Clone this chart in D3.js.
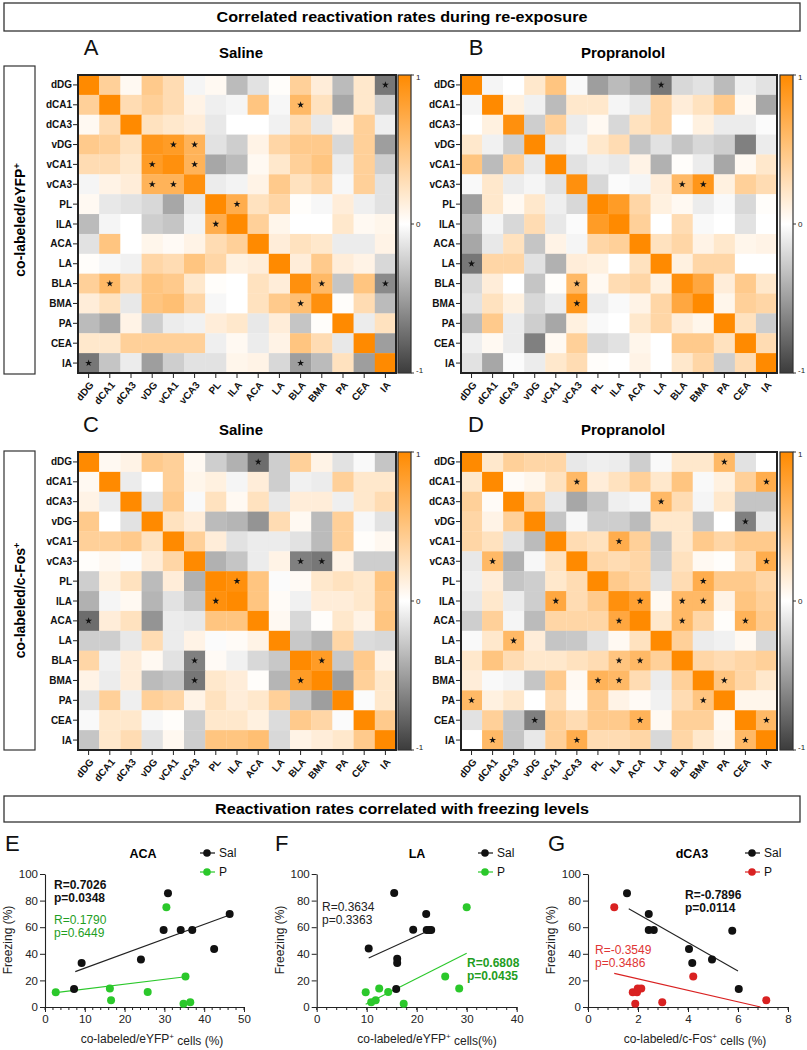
<!DOCTYPE html>
<html><head><meta charset="utf-8">
<script src="https://cdn.jsdelivr.net/npm/d3@7"></script>
<style>
html,body{margin:0;padding:0;background:#fff;}
svg{display:block;font-family:"Liberation Sans",Arial,sans-serif;}
</style></head>
<body>
<svg id="fig" width="807" height="1050"></svg>
<script>
// ---------------- DATA ----------------
const regions = ["dDG","dCA1","dCA3","vDG","vCA1","vCA3","PL","ILA","ACA","LA","BLA","BMA","PA","CEA","IA"];

const matA = [
 [1,0.4,0.05,0.45,0.3,-0.05,0.05,-0.35,-0.15,0.02,0.4,0.15,-0.35,0.2,-0.7],
 [0.4,1,0.3,0.4,0.3,0.1,-0.08,-0.05,0.5,-0.04,0.6,0.25,-0.45,0.2,-0.25],
 [0.05,0.3,1,0.25,0.2,0.15,-0.12,0,0,-0.07,0.3,-0.12,0.1,0.4,-0.08],
 [0.45,0.4,0.25,0.9,0.85,0.65,-0.15,-0.25,0.1,0.35,0.45,0.45,-0.2,0.4,-0.5],
 [0.3,0.3,0.2,0.85,0.95,0.65,-0.45,-0.35,0.05,0.2,0.4,0.5,-0.1,0.4,-0.25],
 [-0.05,0.1,0.15,0.65,0.65,0.95,-0.1,-0.06,0.1,0.45,0.25,0.35,-0.04,0.4,-0.15],
 [0.05,-0.12,-0.15,-0.2,-0.45,-0.12,1,0.7,0.25,0.35,0.02,-0.04,0.15,-0.08,-0.15],
 [-0.35,-0.05,0,-0.25,-0.3,-0.06,0.7,1,0.4,0.08,0,0,0.2,0.05,0.08],
 [-0.15,0.5,0,0.08,0.04,0.1,0.3,0.4,1,0.15,0.25,0.2,-0.1,-0.1,0.1],
 [0.02,-0.04,-0.07,0.35,0.3,0.5,0.35,0.12,0.15,1,0.15,0.45,0.15,0.1,-0.2],
 [0.4,0.6,0.3,0.5,0.45,0.2,0.02,0,0.25,0.15,0.95,0.6,-0.3,0.5,-0.6],
 [0.15,0.25,-0.12,0.5,0.55,0.35,-0.04,0,0.25,0.45,0.55,0.95,0.02,0.3,-0.35],
 [-0.35,-0.45,0.1,-0.25,-0.1,-0.07,0.15,0.2,-0.12,0.15,-0.3,0.02,1,-0.1,0.25],
 [0.2,0.2,0.4,0.4,0.4,0.4,-0.08,0.05,-0.1,0.1,0.5,0.3,-0.12,1,-0.5],
 [-0.7,-0.3,-0.1,-0.5,-0.25,-0.15,-0.15,0.08,0.1,-0.2,-0.5,-0.35,0.25,-0.5,1]
];
const matB = [
 [1,-0.05,0,0.2,0.5,-0.03,-0.5,-0.35,-0.45,-0.7,-0.2,-0.15,-0.35,-0.08,-0.15],
 [-0.05,1,0.12,-0.07,-0.35,0.2,0.2,-0.05,-0.12,0.35,0.15,0.25,0.45,0.05,-0.45],
 [0,0.12,0.95,-0.25,0.4,-0.1,0.05,-0.2,0.25,0.35,0,0.12,-0.1,-0.1,-0.02],
 [0.2,-0.07,-0.25,1,-0.12,-0.05,0.2,0.3,-0.3,-0.15,-0.3,-0.2,-0.25,-0.65,-0.1],
 [0.5,-0.35,0.4,-0.12,1,-0.15,-0.08,-0.12,0.1,-0.4,0.02,-0.1,-0.45,0.05,0.2],
 [-0.03,0.2,-0.1,-0.05,-0.15,0.95,-0.2,-0.02,-0.05,0.15,0.6,0.9,0.12,0.4,0.3],
 [-0.5,0.2,0.05,0.2,-0.08,-0.2,1,0.85,0.35,0.12,0.05,-0.1,-0.03,-0.2,0.02],
 [-0.35,-0.05,-0.2,0.3,-0.12,-0.02,0.85,1,0.4,0,0.3,-0.03,0,-0.15,0],
 [-0.45,-0.12,0.25,-0.3,0.1,-0.05,0.35,0.4,1,0.25,0.35,0.1,0.2,0.08,0.1],
 [-0.7,0.35,0.35,-0.15,-0.4,0.15,0.12,0,0.25,1,0.12,0.35,0.35,0,0],
 [-0.2,0.15,0,-0.3,0.02,0.6,0.05,0.3,0.35,0.12,0.95,0.75,0.15,0.45,0.2],
 [-0.15,0.25,0.12,-0.2,-0.1,0.9,-0.1,-0.03,0.1,0.35,0.75,1,0.08,0.4,0.35],
 [-0.35,0.45,-0.1,-0.25,-0.45,0.12,-0.03,0,0.2,0.35,0.15,0.08,1,0.25,-0.25],
 [-0.08,0.05,-0.1,-0.65,0.05,0.4,-0.2,-0.15,0.08,0,0.45,0.45,0.25,1,0.3],
 [-0.15,-0.45,-0.02,-0.1,0.2,0.3,0.02,0,0.1,0,0.2,0.35,-0.25,0.3,1]
];
const matC = [
 [1,0.05,0.1,0.45,0.4,0.05,-0.25,-0.4,-0.75,-0.25,0.4,0.1,-0.15,-0.03,-0.3],
 [0.05,1,-0.1,0,0.4,0.08,0.12,-0.05,0.15,-0.25,-0.07,-0.1,0.4,0.2,0.2],
 [0.1,-0.1,1,-0.15,0.45,-0.03,0.25,0.05,0.25,-0.12,0.15,0.15,-0.08,0.2,0.3],
 [0.45,0,-0.15,1,0.25,0.15,-0.35,-0.38,-0.55,0.3,0.05,-0.35,0.4,-0.04,-0.15],
 [0.4,0.4,0.45,0.25,1,0.4,0.15,-0.15,-0.1,-0.1,-0.15,-0.35,0.4,0.02,0.06],
 [0.02,0.06,-0.02,0.15,0.35,1,-0.4,-0.3,-0.1,0.1,-0.65,-0.7,0.1,-0.25,-0.25],
 [-0.25,0.12,0.25,-0.35,0.15,-0.4,1,0.95,0.5,-0.02,0.04,0.2,0.25,0.2,0.5],
 [-0.4,-0.05,0.05,-0.38,-0.15,-0.3,0.95,1,0.5,0.03,-0.07,0.15,0.15,0.2,0.45],
 [-0.75,0.15,0.25,-0.55,-0.1,-0.12,0.5,0.5,1,0.05,-0.2,0.02,0.2,0.1,0.5],
 [-0.25,-0.25,-0.12,0.3,-0.1,0.1,-0.02,0.03,0.1,1,-0.28,-0.38,0.35,-0.18,-0.2],
 [0.35,-0.07,0.15,0.05,-0.15,-0.65,0.04,-0.07,-0.2,-0.28,1,0.85,-0.28,0.45,0.1],
 [0.1,-0.1,0.15,-0.35,-0.3,-0.7,0.2,0.15,0.02,-0.38,0.85,1,-0.5,0.4,0.2],
 [-0.15,0.4,-0.08,0.4,0.35,0.1,0.25,0.15,0.2,0.4,-0.28,-0.5,1,-0.02,0.2],
 [-0.03,0.2,0.2,-0.04,0.02,-0.25,0.2,0.2,0.12,-0.18,0.45,0.35,-0.02,1,0.45],
 [-0.3,0.2,0.3,-0.15,0.06,-0.25,0.5,0.5,0.55,-0.2,0.1,0.15,0.2,0.45,1]
];
const matD = [
 [1,0.2,0.4,0.35,0.35,-0.12,-0.08,-0.1,-0.25,-0.03,0.2,0.2,0.6,-0.15,0],
 [0.2,1,0.03,0.08,0.25,0.6,0.15,0.25,0.4,0.2,0.5,-0.03,0.12,0.4,0.7],
 [0.4,0.03,1,0.4,-0.12,-0.45,-0.3,-0.08,-0.05,0.6,0.3,-0.05,0.2,-0.3,-0.3],
 [0.35,0.1,0.4,1,-0.3,-0.04,-0.25,-0.25,-0.35,0.2,0.2,-0.3,0,-0.65,-0.12],
 [0.35,0.25,-0.15,-0.35,1,0.3,0.25,0.7,0.4,-0.3,0.2,0.45,0.35,0.45,0.45],
 [-0.12,0.6,-0.4,-0.04,0.25,1,0.35,0.3,0.35,-0.25,0.25,0.05,0.02,0.3,0.7],
 [-0.08,0.15,-0.3,-0.25,0.2,0.3,1,0.45,0.35,-0.15,0.3,0.7,0.45,0.45,0.35],
 [-0.12,0.2,-0.1,-0.25,0.75,0.3,0.45,0.95,0.8,0.05,0.6,0.6,0.1,0.5,0.4],
 [-0.25,0.4,-0.05,-0.35,0.35,0.35,0.35,0.75,1,0.2,0.6,0.35,0.02,0.65,0.45],
 [-0.03,0.2,0.6,0.15,-0.3,-0.28,-0.15,0.05,0.25,1,0.4,-0.1,-0.07,0.05,-0.2],
 [0.2,0.5,0.3,0.2,0.2,0.25,0.3,0.5,0.6,0.4,1,0.35,0.3,0.35,0.4],
 [0.15,-0.03,-0.06,-0.3,0.45,0.05,0.65,0.6,0.3,-0.1,0.4,1,0.5,0.35,0.2],
 [0.6,0.12,0.2,0,0.3,0.03,0.45,0.1,0.04,-0.07,0.3,0.5,1,0.08,0.08],
 [-0.15,0.4,-0.3,-0.65,0.4,0.3,0.45,0.45,0.65,0.05,0.4,0.4,0.05,1,0.6],
 [0,0.6,-0.3,-0.12,0.4,0.7,0.3,0.3,0.35,-0.2,0.35,0.2,0.08,0.6,1]
];

const starsA = [["dDG","IA"],["dCA1","BLA"],["vDG","vCA1"],["vDG","vCA3"],["vCA1","vDG"],["vCA1","vCA3"],["vCA3","vDG"],["vCA3","vCA1"],["PL","ILA"],["ILA","PL"],["BLA","dCA1"],["BLA","BMA"],["BLA","IA"],["BMA","BLA"],["IA","dDG"],["IA","BLA"]];
const starsB = [["dDG","LA"],["LA","dDG"],["vCA3","BLA"],["vCA3","BMA"],["BLA","vCA3"],["BMA","vCA3"]];
const starsC = [["dDG","ACA"],["vCA3","BLA"],["vCA3","BMA"],["PL","ILA"],["ILA","PL"],["ACA","dDG"],["BLA","vCA3"],["BLA","BMA"],["BMA","vCA3"],["BMA","BLA"]];
const starsD = [["dDG","PA"],["dCA1","vCA3"],["dCA1","IA"],["dCA3","LA"],["vDG","CEA"],["vCA1","ILA"],["vCA3","dCA1"],["vCA3","IA"],["PL","BMA"],["ILA","vCA1"],["ILA","ACA"],["ILA","BLA"],["ILA","BMA"],["ACA","ILA"],["ACA","BLA"],["ACA","CEA"],["LA","dCA3"],["BLA","ILA"],["BLA","ACA"],["BMA","PL"],["BMA","ILA"],["BMA","PA"],["PA","dDG"],["PA","BMA"],["CEA","vDG"],["CEA","ACA"],["CEA","IA"],["IA","dCA1"],["IA","vCA3"],["IA","CEA"]];

const colorbarTicks = [1, 0, -1];

// scatter data: [x (%), freezing (%)]
const eSal = [[7.3,13.5],[9.2,33],[24.1,35.8],[29.8,57.9],[30.9,85.5],[34.1,57.9],[37.0,57.9],[42.5,43.6],[46.4,69.9]];
const eP   = [[2.7,11],[16.3,14],[16.6,5],[25.8,11.3],[30.5,75],[35.3,23],[34.8,2.5],[36.5,3.5]];
const eSalFit = [[7.6,26.6],[46.4,69.2]];
const ePFit   = [[2.7,10.8],[35.3,22.8]];

const fSal = [[10.4,43.9],[15.5,85.7],[19.3,58.1],[21.9,69.9],[22.0,57.9],[22.5,57.9],[22.9,57.9],[16.1,36.3],[16.1,33.1],[15.9,13.5]];
const fP   = [[9.8,11],[10.9,3.5],[11.8,5],[12.5,14],[14.3,11.3],[17.4,2.5],[25.7,23],[28.5,14],[30,75]];
const fSalFit = [[10.4,36.8],[23,58.4]];
const fPFit   = [[9.8,2],[30,40.4]];

const gSal = [[1.56,85.5],[2.43,69.9],[2.43,57.9],[2.63,57.9],[4.04,43.6],[4.17,33.1],[4.96,35.8],[5.77,57.4],[6.03,13.5]];
const gP   = [[1.05,75],[1.79,11],[1.89,2.5],[1.96,11],[1.99,14],[2.13,14],[2.97,3.5],[4.21,23],[7.13,5]];
const gSalFit = [[1.63,73.9],[6.0,27.1]];
const gPFit   = [[1.05,25.3],[6.9,0]];

const freezingTicks = [0,20,40,60,80,100];
const eTicks = [0,10,20,30,40,50];
const fTicks = [0,10,20,30,40];
const gTicks = [0,2,4,6,8];

// ---------------- DRAW ----------------
const svg = d3.select("#fig");
svg.append("rect").attr("width",807).attr("height",1050).attr("fill","#fff");

const color = d3.scaleLinear().domain([-1,0,1]).range(["#3c3c3c","#ffffff","#ff8a00"]).clamp(true);

const defs = svg.append("defs");
const grad = defs.append("linearGradient").attr("id","cbgrad").attr("x1",0).attr("y1",0).attr("x2",0).attr("y2",1);
d3.range(0,1.0001,0.05).forEach(t=>{
  grad.append("stop").attr("offset",t).attr("stop-color",color(1-2*t));
});

function banner(x,y,w,h,text,tl){
  svg.append("rect").attr("x",x).attr("y",y).attr("width",w).attr("height",h)
    .attr("fill","#fff").attr("stroke","#333").attr("stroke-width",1.3);
  svg.append("text").attr("x",x+w/2).attr("y",y+h/2).attr("dy","0.36em")
    .attr("text-anchor","middle").attr("font-weight","bold").attr("font-size",15)
    .attr("textLength",tl).attr("lengthAdjust","spacingAndGlyphs")
    .text(text);
}
banner(4,3,796,28,"Correlated reactivation rates during re-exposure",371);
banner(4,796,796,26,"Reactivation rates correlated with freezing levels",374);

function sideBox(y0,y1,main){
  svg.append("rect").attr("x",4).attr("y",y0).attr("width",31).attr("height",y1-y0)
    .attr("fill","#fff").attr("stroke","#333").attr("stroke-width",1.2);
  const t = svg.append("text").attr("transform",`translate(20,${(y0+y1)/2}) rotate(-90)`)
    .attr("text-anchor","middle").attr("dy","0.35em").attr("font-weight","bold").attr("font-size",14);
  t.append("tspan").text(main);
  t.append("tspan").attr("dy","-0.5em").attr("font-size",9).text("+");
}
sideBox(66,374,"co-labeled/eYFP");
sideBox(451,750,"co-labeled/c-Fos");

function heatmap(cfg, mat, stars){
  const g = svg.append("g");
  const x = d3.scaleBand().domain(regions).range([cfg.x0,cfg.x1]);
  const y = d3.scaleBand().domain(regions).range([cfg.y0,cfg.y1]);
  g.append("text").attr("x",cfg.letterX).attr("y",cfg.y0-20).attr("text-anchor","middle")
    .attr("font-size",22).attr("fill","#111").text(cfg.letter);
  g.append("text").attr("x",(cfg.x0+cfg.x1)/2+4).attr("y",cfg.y0-17).attr("text-anchor","middle")
    .attr("font-size",15).attr("font-weight","bold").text(cfg.title);
  regions.forEach((r,i)=>{
    regions.forEach((c,j)=>{
      g.append("rect").attr("x",x(c)).attr("y",y(r))
        .attr("width",x.bandwidth()+0.3).attr("height",y.bandwidth()+0.3)
        .attr("fill",color(mat[i][j]));
    });
  });
  stars.forEach(([r,c])=>{
    g.append("path").attr("d",d3.symbol(d3.symbolStar,15)())
      .attr("transform",`translate(${x(c)+x.bandwidth()/2},${y(r)+y.bandwidth()/2})`)
      .attr("fill","#111");
  });
  g.append("rect").attr("x",cfg.x0).attr("y",cfg.y0).attr("width",cfg.x1-cfg.x0).attr("height",cfg.y1-cfg.y0)
    .attr("fill","none").attr("stroke","#222").attr("stroke-width",2);
  regions.forEach(r=>{
    const cy = y(r)+y.bandwidth()/2;
    g.append("line").attr("x1",cfg.x0-5).attr("x2",cfg.x0).attr("y1",cy).attr("y2",cy).attr("stroke","#222").attr("stroke-width",1);
    g.append("text").attr("x",cfg.x0-6).attr("y",cy).attr("dy","0.35em").attr("text-anchor","end")
      .attr("font-size",10).attr("font-weight","bold").attr("fill","#111").text(r);
  });
  regions.forEach(c=>{
    const cx = x(c)+x.bandwidth()/2;
    g.append("line").attr("x1",cx).attr("x2",cx).attr("y1",cfg.y1).attr("y2",cfg.y1+5).attr("stroke","#222").attr("stroke-width",1);
    g.append("text").attr("transform",`translate(${cx+3},${cfg.y1+10}) rotate(-50)`)
      .attr("dy","0.35em").attr("text-anchor","end")
      .attr("font-size",10).attr("font-weight","bold").attr("fill","#111").text(c);
  });
  const cbW = 13;
  g.append("rect").attr("x",cfg.cbX).attr("y",cfg.y0).attr("width",cbW).attr("height",cfg.y1-cfg.y0)
    .attr("fill","url(#cbgrad)").attr("stroke","#333").attr("stroke-width",1.2);
  const cy = d3.scaleLinear().domain([-1,1]).range([cfg.y1,cfg.y0]);
  colorbarTicks.forEach(v=>{
    g.append("line").attr("x1",cfg.cbX+cbW).attr("x2",cfg.cbX+cbW+3).attr("y1",cy(v)).attr("y2",cy(v)).attr("stroke","#333");
    g.append("text").attr("x",cfg.cbX+cbW+5).attr("y",cy(v)).attr("dy", v===1?"0.6em":(v===-1?"0em":"0.35em"))
      .attr("font-size",8).attr("fill","#222").text(v);
  });
}

heatmap({letter:"A",title:"Saline",x0:78,x1:396,y0:75,y1:373,cbX:398,letterX:91}, matA, starsA);
heatmap({letter:"B",title:"Propranolol",x0:461,x1:777,y0:75,y1:373,cbX:780,letterX:476}, matB, starsB);
heatmap({letter:"C",title:"Saline",x0:78,x1:396,y0:452,y1:750,cbX:398,letterX:91}, matC, starsC);
heatmap({letter:"D",title:"Propranolol",x0:461,x1:777,y0:452,y1:750,cbX:780,letterX:476}, matD, starsD);

const GREEN = "#2bc82b", GREEN_T = "#1f9e1f", RED = "#d92121", RED_T = "#e03535";

function scatter(cfg){
  const g = svg.append("g");
  const x = d3.scaleLinear().domain(cfg.xDomain).range([cfg.x0,cfg.x1]);
  const y = d3.scaleLinear().domain([0,100]).range([1007,874]);
  g.append("text").attr("x",cfg.letterX).attr("y",851).attr("font-size",22).attr("fill","#111").text(cfg.letter);
  g.append("text").attr("x",cfg.titleX).attr("y",858).attr("text-anchor","middle")
    .attr("font-size",12.5).attr("font-weight","bold").text(cfg.title);
  [["Sal","#111",853],["P",cfg.pColor,872]].forEach(([lab,col,ly])=>{
    g.append("line").attr("x1",cfg.legX-7).attr("x2",cfg.legX+8).attr("y1",ly).attr("y2",ly).attr("stroke",col).attr("stroke-width",1.2);
    g.append("circle").attr("cx",cfg.legX).attr("cy",ly).attr("r",3.8).attr("fill",col);
    g.append("text").attr("x",cfg.legX+12).attr("y",ly).attr("dy","0.36em").attr("font-size",12).attr("fill","#111").text(lab);
  });
  const xAx = d3.axisBottom(x).tickValues(cfg.xTicks).tickSize(5).tickSizeOuter(0);
  const xg = g.append("g").attr("transform","translate(0,1007)").call(xAx);
  const minor = d3.range(cfg.xDomain[0],cfg.xDomain[1]+1e-9,cfg.minor);
  xg.selectAll(".mt").data(minor).enter().append("line").attr("class","mt")
    .attr("x1",d=>x(d)).attr("x2",d=>x(d)).attr("y1",0).attr("y2",3).attr("stroke","#222");
  const yAx = d3.axisLeft(y).tickValues(freezingTicks).tickSize(5).tickSizeOuter(0);
  const yg = g.append("g").attr("transform",`translate(${cfg.x0},0)`).call(yAx);
  [xg,yg].forEach(a=>{
    a.selectAll("path").attr("stroke","#222").attr("stroke-width",1.1);
    a.selectAll("line").attr("stroke","#222");
    a.selectAll("text").attr("font-size",11.5).attr("font-family","Liberation Sans, Arial, sans-serif").attr("fill","#222");
  });
  yg.selectAll("text").attr("x",-7);
  xg.selectAll(".tick text").attr("y",8);
  g.append("text").attr("transform",`translate(${cfg.x0-33},940) rotate(-90)`).attr("text-anchor","middle")
    .attr("font-size",12).attr("fill","#222").text("Freezing (%)");
  const xl = g.append("text").attr("x",cfg.xLabelX).attr("y",1043).attr("text-anchor","middle").attr("font-size",12).attr("fill","#222");
  xl.append("tspan").text(cfg.xLabelA);
  xl.append("tspan").attr("dy","-0.5em").attr("font-size",8).text("+");
  xl.append("tspan").attr("dy","0.5em").text(cfg.xLabelB);
  const line = d3.line().x(d=>x(d[0])).y(d=>y(d[1]));
  g.append("path").attr("d",line(cfg.salFit)).attr("stroke","#222").attr("stroke-width",1.1).attr("fill","none");
  g.append("path").attr("d",line(cfg.pFit)).attr("stroke",cfg.pColor).attr("stroke-width",1.1).attr("fill","none");
  g.selectAll(".ps").data(cfg.pts).enter().append("circle")
    .attr("cx",d=>x(d[0])).attr("cy",d=>y(d[1])).attr("r",4).attr("fill",cfg.pColor);
  g.selectAll(".ss").data(cfg.sal).enter().append("circle")
    .attr("cx",d=>x(d[0])).attr("cy",d=>y(d[1])).attr("r",4).attr("fill","#111");
  cfg.stats.forEach(s=>{
    g.append("text").attr("x",s.x).attr("y",s.y).attr("font-size",12).attr("font-weight",s.bold?"bold":"normal")
      .attr("fill",s.color).text(s.r);
    g.append("text").attr("x",s.x).attr("y",s.y+13).attr("font-size",12).attr("font-weight",s.bold?"bold":"normal")
      .attr("fill",s.color).text(s.p);
  });
}

scatter({letter:"E",letterX:5,title:"ACA",titleX:143,legX:207,pColor:GREEN,
  x0:45,x1:244,xDomain:[0,50],xTicks:eTicks,minor:2,
  xLabelX:152,xLabelA:"co-labeled/eYFP",xLabelB:" cells (%)",
  sal:eSal,pts:eP,salFit:eSalFit,pFit:ePFit,
  stats:[{x:54,y:889,r:"R=0.7026",p:"p=0.0348",bold:true,color:"#111"},
         {x:54,y:924,r:"R=0.1790",p:"p=0.6449",bold:false,color:GREEN_T}]});

scatter({letter:"F",letterX:275,title:"LA",titleX:417,legX:485,pColor:GREEN,
  x0:316.7,x1:516.7,xDomain:[0,40],xTicks:fTicks,minor:2,
  xLabelX:427,xLabelA:"co-labeled/eYFP",xLabelB:" cells(%)",
  sal:fSal,pts:fP,salFit:fSalFit,pFit:fPFit,
  stats:[{x:322,y:911,r:"R=0.3634",p:"p=0.3363",bold:false,color:"#222"},
         {x:467,y:967,r:"R=0.6808",p:"p=0.0435",bold:true,color:GREEN_T}]});

scatter({letter:"G",letterX:548,title:"dCA3",titleX:692,legX:752,pColor:RED,
  x0:588,x1:788,xDomain:[0,8],xTicks:gTicks,minor:0.4,
  xLabelX:695,xLabelA:"co-labeled/c-Fos",xLabelB:" cells (%)",
  sal:gSal,pts:gP,salFit:gSalFit,pFit:gPFit,
  stats:[{x:685,y:899,r:"R=-0.7896",p:"p=0.0114",bold:true,color:"#111"},
         {x:595,y:954,r:"R=-0.3549",p:"p=0.3486",bold:false,color:RED_T}]});
</script>
</body></html>
